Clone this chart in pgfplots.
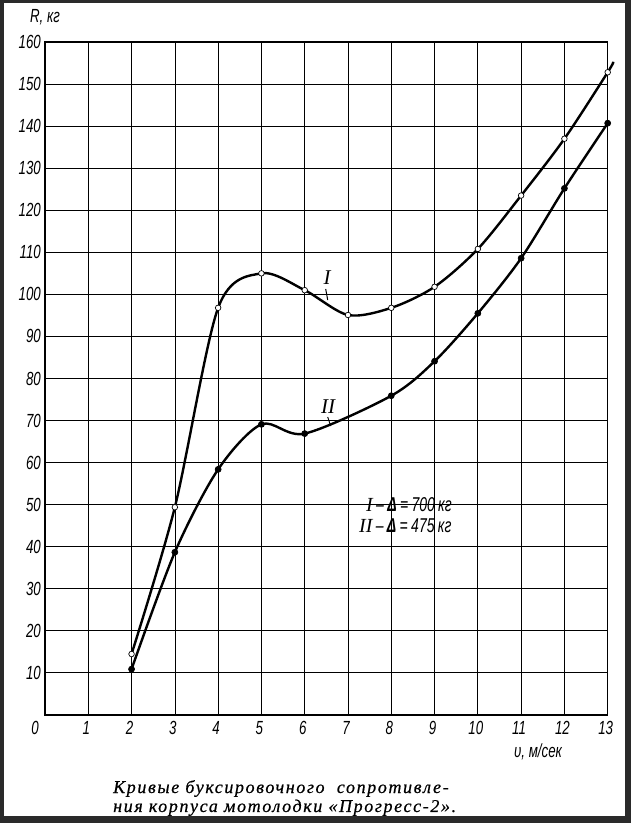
\documentclass[border=0pt]{standalone}
\usepackage{fontspec}
\setmainfont{Liberation Serif}
\newfontfamily\gost{Liberation Sans}[FakeStretch=0.7]
\newfontfamily\capfont{Liberation Serif}[LetterSpace=9, FakeBold=0.6]
\usepackage{pgfplots}
\pgfplotsset{compat=1.18}
\definecolor{scanframe}{RGB}{42,42,42}

% curve I, displacement 700 kg (last row: end of the drawn curve, no mark)
\pgfplotstableread{
v R
2 14.5
3 49.4
4 96.8
5 105.0
6 101.0
7 95.1
8 96.8
9 101.8
10 110.8
11 123.5
12 137.0
13 152.8
13.13 155.3
}\hullI

% curve II, displacement 475 kg
\pgfplotstableread{
v R
2 10.9
3 38.7
4 58.4
5 69.1
6 66.9
8 75.9
9 84.1
10 95.5
11 108.6
12 125.2
13 140.7
}\hullII

\begin{document}
\begin{tikzpicture}[x=1pt,y=1pt]
\fill[scanframe] (0,0) rectangle (631,823);
\fill[white] (4,7) rectangle (625,820);
\begin{axis}[
  at={(45pt,108pt)}, anchor=south west,
  width=562.7pt, height=673pt, scale only axis,
  xmin=0, xmax=13, ymin=0, ymax=160,
  xtick={1,...,13}, ytick={10,20,...,160},
  major tick length=0pt,
  grid=major,
  major x grid style={black, line width=0.7pt},
  major y grid style={black, line width=1.1pt},
  axis line style={black, line width=1.3pt},
  /pgf/number format/assume math mode=true,
  ticklabel style={font=\gost\itshape\fontsize{19}{19}\selectfont, inner sep=0pt},
  xticklabel style={anchor=north, yshift=-6pt, xshift=-2pt},
  yticklabel style={anchor=east, xshift=-4pt},
  clip=false,
]
\addplot[black, line width=2.4pt, smooth, mark=*, mark indices={1,...,12},
  mark size=2.8pt, mark options={fill=white, draw=black, line width=0.7pt}]
  table[x=v,y=R]{\hullI};
\addplot[black, line width=2.4pt, smooth, mark=*, mark size=3pt,
  mark options={fill=black, line width=0.7pt}]
  table[x=v,y=R]{\hullII};
\end{axis}
% axis labels and origin
\node[font=\gost\itshape\fontsize{19}{19}\selectfont] at (35,95) {0};
\node[font=\gost\itshape\fontsize{19}{19}\selectfont] at (45,806) {R, кг};
\node[font=\gost\itshape\fontsize{19}{19}\selectfont] at (538,71) {υ, м/сек};
% curve labels with leaders
\node[font=\itshape\fontsize{21}{21}\selectfont] at (327,545) {I};
\draw[line width=1pt] (325.7,534) -- (327.7,523);
\node[font=\itshape\fontsize{21}{21}\selectfont] at (328,416) {II};
\draw[line width=1pt] (327.7,406) -- (330.7,397);
% key
\node[anchor=west, inner sep=0pt, font=\gost\itshape\fontsize{20}{20}\selectfont] at (366,318)
  {{\rmfamily I}\,–\,{\bfseries Δ}\,=\,700\,кг};
\node[anchor=west, inner sep=0pt, font=\gost\itshape\fontsize{20}{20}\selectfont] at (359,297)
  {{\rmfamily II}\,–\,{\bfseries Δ}\,=\,475\,кг};
% caption
\node[anchor=base west, inner sep=0pt, font=\capfont\itshape\fontsize{18}{18}\selectfont] at (113,30)
  {Кривые буксировочного\ \ сопротивле-};
\node[anchor=base west, inner sep=0pt, font=\capfont\itshape\fontsize{18}{18}\selectfont] at (113,11)
  {ния корпуса мотолодки «Прогресс-2».};
\end{tikzpicture}
\end{document}
